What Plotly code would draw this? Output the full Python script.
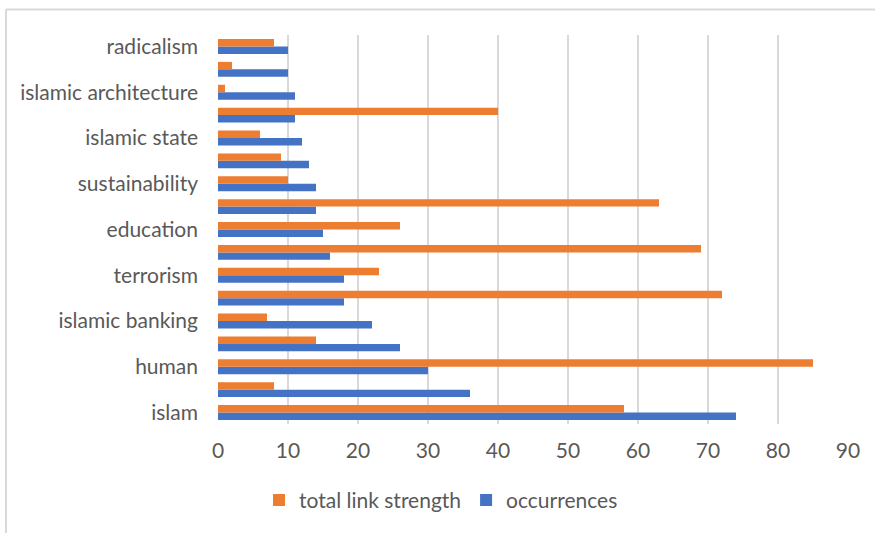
import plotly.graph_objects as go

# Keyword positions from bottom (0) to top (16); every other one is labelled
positions = list(range(17))
tick_positions = [0, 2, 4, 6, 8, 10, 12, 14, 16]
tick_labels = ["islam", "human", "islamic banking", "terrorism", "education",
               "sustainability", "islamic state", "islamic architecture", "radicalism"]

occurrences = [74, 36, 30, 26, 22, 18, 18, 16, 15, 14, 14, 13, 12, 11, 11, 10, 10]
total_link_strength = [58, 8, 85, 14, 7, 72, 23, 69, 26, 63, 10, 9, 6, 40, 1, 2, 8]

FONT = "Lato"
FONT_SIZE = 21
TEXT_COLOR = "#595959"
GRID_COLOR = "#d9d9d9"

fig = go.Figure()
fig.add_trace(go.Bar(
    y=positions, x=occurrences, orientation="h", name="occurrences",
    marker=dict(color="#4472c4", line=dict(width=0)),
))
fig.add_trace(go.Bar(
    y=positions, x=total_link_strength, orientation="h", name="total link strength",
    marker=dict(color="#ed7d31", line=dict(width=0)),
))

fig.update_layout(
    width=875, height=533,
    margin=dict(l=218, r=27, t=34.5, b=108.5),
    paper_bgcolor="white", plot_bgcolor="white",
    barmode="group", bargap=0.35, bargroupgap=0,
    font=dict(family=FONT, size=FONT_SIZE, color=TEXT_COLOR),
    showlegend=True,
    legend=dict(
        orientation="h", traceorder="reversed",
        x=0.354, xanchor="center", xref="paper",
        y=-0.196, yanchor="middle", yref="paper",
        font=dict(family=FONT, size=FONT_SIZE, color=TEXT_COLOR),
        itemwidth=30, bgcolor="rgba(0,0,0,0)",
    ),
    xaxis=dict(
        range=[0, 90], tickvals=list(range(0, 91, 10)),
        showgrid=True, gridcolor=GRID_COLOR, gridwidth=1.5,
        zeroline=False, showline=False, ticks="",
        ticklabelstandoff=12,
        tickfont=dict(family=FONT, size=FONT_SIZE, color=TEXT_COLOR),
        fixedrange=True,
    ),
    yaxis=dict(
        range=[-0.5, 16.5], tickvals=tick_positions, ticktext=tick_labels,
        showgrid=False, zeroline=False, showline=False, ticks="",
        ticklabelstandoff=19,
        tickfont=dict(family=FONT, size=FONT_SIZE, color=TEXT_COLOR),
        fixedrange=True,
    ),
    shapes=[
        # chart frame: top and left edges
        dict(type="line", xref="paper", yref="paper",
             x0=(6 - 218) / 630, x1=(875 - 218) / 630,
             y0=(424.5 - 9) / 390, y1=(424.5 - 9) / 390,
             line=dict(color=GRID_COLOR, width=2)),
        dict(type="line", xref="paper", yref="paper",
             x0=(6 - 218) / 630, x1=(6 - 218) / 630,
             y0=(424.5 - 9) / 390, y1=(424.5 - 540) / 390,
             line=dict(color=GRID_COLOR, width=2)),
    ],
)

fig.write_html("out.html")
